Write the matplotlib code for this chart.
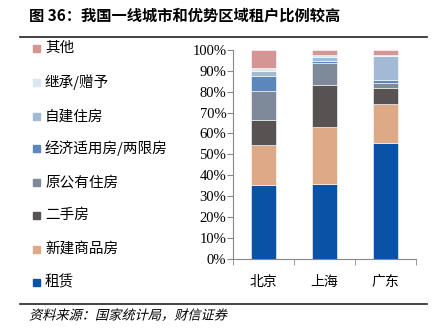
import matplotlib
matplotlib.use("Agg")
import matplotlib.pyplot as plt
from matplotlib.lines import Line2D
from matplotlib.patches import Rectangle
from matplotlib.transforms import Affine2D
import matplotlib.patheffects as pe
import numpy as np

cities = ["北京", "上海", "广东"]
series_names = ["租赁", "新建商品房", "二手房", "原公有住房",
                "经济适用房/两限房", "自建住房", "继承/赠予", "其他"]
# shares in %, one list per series, order = cities
rent = [35.3, 35.9, 55.6]
new_house = [19.0, 27.0, 18.5]
second_hand = [12.3, 20.5, 7.5]
public_house = [13.9, 10.5, 2.7]
affordable = [6.9, 1.0, 1.3]
self_built = [2.7, 1.9, 11.5]
inherited = [1.1, 0.8, 0.3]
other = [8.8, 2.4, 2.6]
series_values = [rent, new_house, second_hand, public_house,
                 affordable, self_built, inherited, other]
colors = ["#0A52A6", "#DEA986", "#595253", "#7E8A99",
          "#5B87BD", "#A3BAD7", "#DDE5EF", "#D49594"]
yticks = np.arange(0, 101, 10)


class Slant(pe.AbstractPathEffect):
    # fake italic: shear the glyph outlines
    def draw_path(self, renderer, gc, tpath, affine, rgbFace=None):
        renderer.draw_path(gc, tpath, Affine2D().skew_deg(14, 0) + affine, rgbFace)


cjk = ["Noto Sans CJK SC", "DejaVu Sans"]
plt.rcParams["font.family"] = cjk

W, H = 434, 335
fig = plt.figure(figsize=(W / 100, H / 100), dpi=100)
ax = fig.add_axes([233.3 / W, 1 - 258.7 / H, 182.4 / W, 208.7 / H])

x = np.arange(len(cities))
bottom = np.zeros(len(cities))
for vals, col in zip(series_values, colors):
    ax.bar(x, vals, width=0.42, bottom=bottom, color=col,
           edgecolor="white", linewidth=0.4)
    bottom += np.array(vals)

ax.set_xlim(-0.5, 2.5)
ax.set_ylim(0, 100)
ax.set_yticks(yticks)
ax.set_yticklabels([f"{v}%" for v in yticks], family="Liberation Serif", fontsize=10.5)
ax.set_xticks(x)
ax.set_xticklabels(cities, fontsize=10)
ax.set_xticks([-0.5, 0.5, 1.5, 2.5], minor=True)
ax.tick_params(axis="x", which="major", length=0, pad=12)
ax.tick_params(axis="x", which="minor", length=4, color="#888888", direction="out")
ax.tick_params(axis="y", length=4, color="#888888", direction="out", pad=1)
for s in ["top", "right"]:
    ax.spines[s].set_visible(False)
for s in ["left", "bottom"]:
    ax.spines[s].set_color("#888888")
    ax.spines[s].set_linewidth(0.8)

# legend, top item = last series
leg_y = [48.3, 82.3, 116.7, 148.3, 182.7, 215, 249, 282.3]
for name, col, yy in zip(series_names[::-1], colors[::-1], leg_y):
    fig.add_artist(Rectangle((32.5 / W, 1 - (yy + 3.5) / H), 7 / W, 7 / H,
                             transform=fig.transFigure, color=col))
    fig.text(45 / W, 1 - yy / H, name, fontsize=10.5, va="center", ha="left")

fig.text(29 / W, 1 - 16 / H, "图 36：我国一线城市和优势区域租户比例较高",
         fontsize=11, fontweight="bold", va="center", ha="left")
fig.add_artist(Line2D([20 / W, 427 / W], [1 - 37.3 / H] * 2,
                      transform=fig.transFigure, color="#222222", linewidth=1.2))
fig.add_artist(Line2D([20 / W, 427 / W], [1 - 304 / H] * 2,
                      transform=fig.transFigure, color="#222222", linewidth=1.2))
fig.text(29 / W, 1 - 316 / H, "资料来源：国家统计局，财信证券",
         fontsize=9.5, va="center", ha="left", path_effects=[Slant()])

fig.savefig("out.png", dpi=100)
